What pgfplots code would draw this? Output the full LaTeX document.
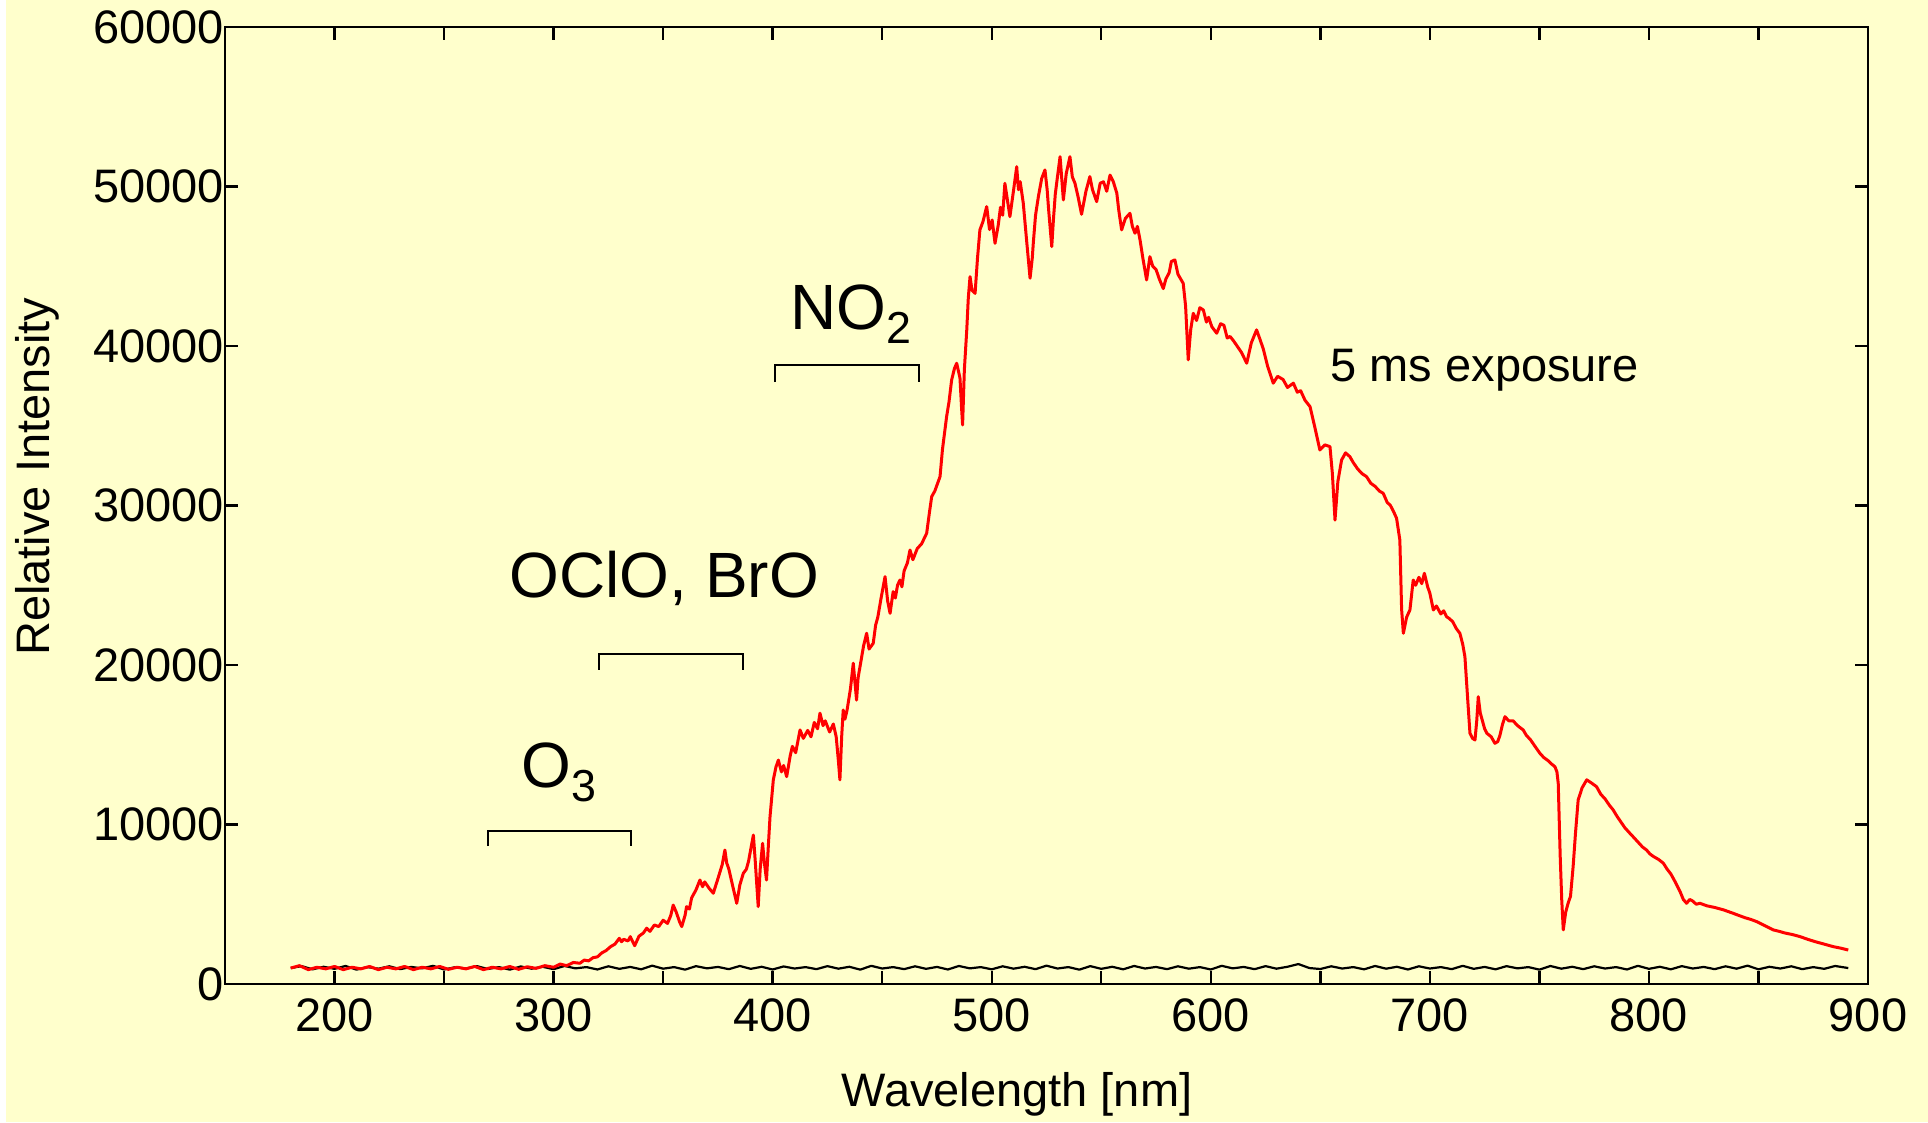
\documentclass[border=0pt]{standalone}
\usepackage{fontspec}
\setmainfont{Liberation Sans}
\usepackage{pgfplots}
\pgfplotsset{compat=1.18}
\definecolor{bgy}{RGB}{255,255,204}
\begin{document}
\begin{tikzpicture}
\fill[bgy] (0,0) rectangle (964pt,561pt);
\fill[white] (0,0) rectangle (3pt,561pt);
\begin{axis}[
  at={(112.5pt,69pt)}, anchor=south west,
  scale only axis, width=821.5pt, height=478.5pt,
  xmin=150, xmax=900, ymin=0, ymax=60000,
  xtick={200,300,...,900}, minor xtick={150,250,...,850},
  ytick={0,10000,...,60000},
  tick align=inside, major tick length=6.5pt, minor tick length=6.5pt,
  every tick/.style={black, line width=1.2pt},
  axis line style={line width=1.3pt},
  scaled y ticks=false,
  /pgf/number format/assume math mode=true,
  yticklabel style={/pgf/number format/fixed, /pgf/number format/1000 sep={}, xshift=3pt},
  xticklabel style={yshift=-4pt},
  tick label style={font=\fontsize{23.5}{27}\selectfont},
  label style={font=\fontsize{23.5}{28}\selectfont},
  xlabel={Wavelength [nm]}, ylabel={Relative Intensity},
  xlabel style={at={(axis description cs:0.482,-0.115)}, anchor=center},
  ylabel style={at={(axis description cs:-0.1144,0.53)}, anchor=center},
]
\addplot[black, line width=1.1pt, line join=round] coordinates {
(180,1000)(185,1120)(190,920)(195,1080)(200,950)(205,1130)(210,900)(215,1060)(220,960)(225,1110)
(230,930)(235,1070)(240,980)(245,1140)(250,910)(255,1050)(260,970)(265,1120)(270,940)(275,1060)
(280,900)(285,1100)(290,960)(295,1080)(300,930)(305,1130)(310,980)(315,1060)(320,910)(325,1110)
(330,950)(335,1070)(340,920)(345,1150)(350,960)(355,1060)(360,900)(365,1120)(370,980)(375,1070)
(380,930)(385,1130)(390,950)(395,1080)(400,910)(405,1100)(410,970)(415,1060)(420,930)(425,1120)
(430,960)(435,1080)(440,900)(445,1140)(450,970)(455,1060)(460,930)(465,1110)(470,950)(475,1070)
(480,910)(485,1130)(490,980)(495,1060)(500,920)(505,1110)(510,960)(515,1080)(520,930)(525,1150)
(530,970)(535,1060)(540,900)(545,1120)(550,950)(555,1080)(560,920)(565,1130)(570,970)(575,1070)
(580,930)(585,1110)(590,960)(595,1060)(600,910)(605,1140)(610,980)(615,1070)(620,930)(625,1120)
(630,960)(635,1080)(640,1250)(645,1000)(650,940)(655,1110)(660,970)(665,1060)(670,920)(675,1130)
(680,960)(685,1080)(690,910)(695,1110)(700,970)(705,1060)(710,930)(715,1140)(720,950)(725,1070)
(730,920)(735,1120)(740,980)(745,1060)(750,900)(755,1130)(760,960)(765,1080)(770,930)(775,1110)
(780,970)(785,1060)(790,910)(795,1140)(800,950)(805,1080)(810,920)(815,1120)(820,970)(825,1070)
(830,930)(835,1110)(840,960)(845,1150)(850,920)(855,1080)(860,970)(865,1110)(870,930)(875,1060)
(880,950)(885,1130)(891,1000)
};
\addplot[red, line width=1.5pt, line join=round] coordinates {
(180,1000)(184,1150)(188,900)(192,1050)(196,950)(200,1100)(204,900)(208,1050)(212,950)(216,1100)
(220,900)(224,1050)(228,950)(232,1100)(236,900)(240,1050)(244,950)(248,1100)(252,920)(256,1050)
(260,950)(264,1100)(268,900)(272,1050)(276,950)(280,1100)(284,920)(288,1080)(292,980)(296,1150)
(300,1050)(303,1250)(306,1150)(309,1350)(312,1300)(314,1500)(316,1450)(318,1650)(320,1700)(322,1950)
(324,2100)(326,2340)(328,2500)(330,2865)(331,2650)(332,2800)(334,2700)(335,2970)(337,2400)(339,3000)
(341,3200)(342.5,3500)(344,3300)(346,3700)(348,3600)(350,4000)(352,3800)(353.5,4300)(354.6,4950)(356,4500)
(357.5,3900)(358.5,3600)(360,4300)(360.7,4850)(362,4700)(363,5400)(365,5900)(366.8,6520)(368,6100)(369,6400)
(371,6000)(372.9,5690)(375,6600)(377,7500)(378.2,8400)(379,7600)(380,7200)(382,6000)(383.6,5060)(385,6200)
(386.6,6940)(388,7200)(389,7700)(390.2,8600)(391.2,9340)(392,7800)(393.4,4850)(394.3,7200)(395.4,8820)(396.3,7500)
(397.2,6520)(398,8600)(398.8,10500)(400.3,12800)(401.5,13600)(402.6,14040)(404,13300)(405,13700)(406.4,13000)(408,14300)
(409,14900)(410.5,14500)(412.5,15930)(414,15400)(416,15900)(417.5,15500)(419,16400)(420.5,16000)(421.6,16980)(423,16200)
(424,16500)(426,15800)(427.7,16300)(429,15500)(430,14000)(430.7,12800)(431.5,15500)(432.2,17180)(433,16600)(434,17200)
(435.5,18500)(436.8,20110)(437.5,19000)(438.3,17800)(439,19200)(440,20000)(441.5,21200)(442.9,21990)(444,21000)(445.9,21360)
(447,22500)(448,23000)(449.5,24200)(451.3,25540)(452.5,24000)(453.6,23240)(455,24600)(456,24200)(457,25000)(458.1,25330)
(459,24900)(460,25900)(461.5,26400)(462.7,27210)(464,26600)(466,27300)(468,27600)(470.3,28260)(471.5,29500)(472.6,30560)
(474,30900)(476.4,31810)(477.5,33500)(479.4,35570)(480.5,36500)(481.7,37870)(483,38600)(484,38920)(485.5,38000)(486.2,36200)
(486.7,35050)(487.5,38500)(488.6,41000)(489.3,43000)(490.1,44350)(491,43500)(492.4,43300)(493.5,45500)(494.6,47280)(496,47800)
(497.7,48740)(499,47300)(500.2,47900)(501.5,46440)(503,47600)(504,48700)(505,48200)(506,50200)(507,49300)(508.3,48110)
(510,49800)(511.4,51240)(512.2,49800)(513,50300)(514.4,48950)(516,46500)(517.5,44250)(518.5,45500)(519,46500)(520,48200)
(521.3,49370)(522.8,50500)(524.3,51040)(525.3,49800)(526,48500)(527.4,46230)(528.2,48000)(529,49500)(530,50600)(531.2,51870)
(532.7,49160)(534,50800)(535.7,51870)(536.8,50600)(538,50200)(539.5,49300)(541,48260)(543,49700)(544.8,50620)(546,49800)
(547.9,49050)(549.5,50200)(551,50300)(552.5,49700)(554,50720)(555.5,50300)(557.1,49580)(558,48500)(559.3,47280)(561,48000)
(563.1,48320)(564.2,47500)(565.4,47070)(566.5,47500)(567.7,46650)(569,45500)(570.7,44140)(572.2,45600)(573.5,45000)(575,44800)
(576.5,44200)(578.3,43600)(579.5,44200)(581,44600)(582,45300)(583.6,45400)(585,44500)(587.4,43930)(588.5,42500)(589.7,39130)
(590.8,41000)(592,42050)(593.5,41600)(595,42400)(596.6,42260)(598,41500)(599,41800)(600.5,41200)(602.7,40800)(604.5,41400)
(606,41300)(607.5,40500)(608.8,40600)(610.5,40300)(612,40000)(614,39600)(616.4,38920)(618.5,40200)(620.9,41010)(622.5,40400)
(624,39800)(626,38700)(628.5,37670)(630.5,38100)(633,37900)(635,37400)(637.7,37670)(639.5,37100)(641,37200)(643,36600)
(645.3,36200)(647.5,34900)(649.8,33480)(652,33800)(654.4,33690)(655.5,32000)(656.7,29090)(658,31500)(659.7,32850)(661.5,33300)
(663.5,33060)(665,32700)(667,32300)(669,32000)(671.1,31810)(673,31400)(675,31200)(677,30900)(678.7,30770)(680.5,30200)
(682,30000)(683.5,29600)(684.8,29200)(686.3,27840)(687.1,23500)(687.9,21990)(689.4,23000)(690.9,23450)(692.4,25330)(693.5,25000)
(695,25500)(696.3,25100)(697.5,25750)(699,24900)(700,24500)(701.6,23450)(703,23700)(705,23200)(706.3,23400)(707.6,23030)
(709,22900)(710.5,22700)(712,22300)(713.7,21990)(715,21300)(716,20520)(717.2,18000)(718.3,15720)(719.5,15400)(720.6,15300)
(721.4,16500)(722.1,18010)(723,17000)(724,16500)(725,16000)(726,15720)(728,15500)(729.7,15090)(731,15200)(732,15600)
(733.2,16300)(734.3,16760)(736,16500)(738,16500)(740,16200)(742.6,15930)(744,15600)(746,15300)(748,14900)(750.2,14470)
(752,14200)(754,14000)(755.5,13800)(757.1,13620)(758,13300)(758.6,12580)(759.5,8000)(760.2,5270)(760.9,3390)(762,4500)
(763.1,5060)(764.2,5500)(765.4,7360)(766.5,9500)(767.7,11540)(769.5,12300)(771.6,12800)(773.8,12600)(776.1,12370)(778,11900)
(780,11600)(782,11200)(783.7,10910)(785.5,10500)(787,10200)(789,9800)(791.3,9450)(793,9200)(795,8900)(797,8600)
(798.9,8400)(800.5,8150)(802,8000)(804.5,7800)(806.6,7570)(808.3,7200)(810,6900)(812,6400)(814.2,5800)(815.7,5300)
(817.2,5060)(818.6,5300)(820,5200)(821.6,5000)(823.3,5060)(826.5,4900)(830,4800)(834,4650)(838.5,4430)(841,4300)
(844,4150)(846.5,4050)(849.2,3910)(853,3650)(856.8,3390)(859.5,3300)(862,3200)(865.5,3100)(869,2970)(872.5,2800)
(876,2650)(880,2500)(884.2,2340)(887.5,2250)(891,2130)
};
\draw[black, line width=0.8pt] (axis cs:270,8650) -- (axis cs:270,9600) -- (axis cs:335.3,9600) -- (axis cs:335.3,8650);
\draw[black, line width=0.8pt] (axis cs:320.8,19690) -- (axis cs:320.8,20700) -- (axis cs:386.4,20700) -- (axis cs:386.4,19690);
\draw[black, line width=0.8pt] (axis cs:401,37740) -- (axis cs:401,38800) -- (axis cs:466.7,38800) -- (axis cs:466.7,37740);
\node[font=\fontsize{32}{38}\selectfont] at (axis cs:302.7,13290) {O\textsubscript{3}};
\node[font=\fontsize{32}{38}\selectfont] at (axis cs:350.5,25455) {OClO, BrO};
\node[font=\fontsize{32}{38}\selectfont] at (axis cs:436,42000) {NO\textsubscript{2}};
\node[font=\fontsize{23.5}{28}\selectfont] at (axis cs:725,38500) {5 ms exposure};
\end{axis}
\end{tikzpicture}
\end{document}
